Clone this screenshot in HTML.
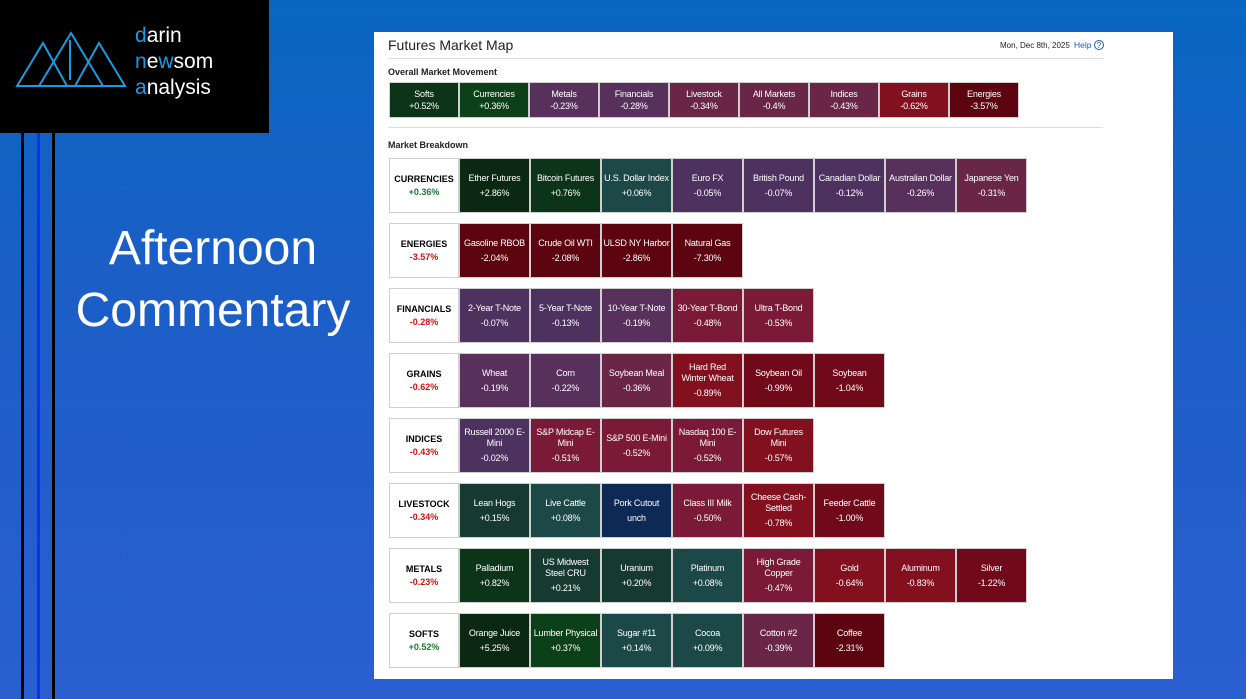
<!DOCTYPE html>
<html><head><meta charset="utf-8"><style>
*{margin:0;padding:0;box-sizing:border-box}
body{width:1246px;height:699px;overflow:hidden;position:relative;font-family:"Liberation Sans",sans-serif;background:linear-gradient(180deg,#0866c2 0%,#1b5ec6 40%,#2a5fd0 100%)}
.abs{position:absolute}
#panel{left:374px;top:32px;width:799px;height:647px;background:#fff}
.cell{position:absolute;color:#fff;font-size:9px;letter-spacing:-0.2px;text-align:center;border:1px solid #cfcfcf;display:flex;flex-direction:column;justify-content:center;align-items:center;line-height:10.5px;white-space:nowrap}
.cell.w .n{white-space:normal;width:62px}
.cell .v{margin-top:5px}
.lab{position:absolute;background:#fff;border:1px solid #cfcfcf;text-align:center;font-size:9px;font-weight:bold;display:flex;flex-direction:column;justify-content:center}
</style></head><body>
<div class="abs" style="left:0;top:0;width:269px;height:133px;background:#000">
<svg class="abs" style="left:15px;top:28px" width="112" height="62"><g fill="none" stroke="#1a9be0" stroke-width="2"><polygon points="2,58 28,15 52,58"/><polygon points="24,58 56,5 88,58"/><polygon points="60,58 84,15 110,58"/><line x1="55" y1="12" x2="55" y2="52"/></g></svg>
<div class="abs" style="left:135px;top:23px;color:#fff;font-size:21px;line-height:26px">
<div><span style="color:#1a9be0">d</span>arin</div><div><span style="color:#1a9be0">n</span>e<span style="color:#1a9be0">w</span>som</div><div><span style="color:#1a9be0">a</span>nalysis</div></div>
</div>
<div class="abs" style="left:21px;top:133px;width:3px;height:566px;background:#000"></div>
<div class="abs" style="left:37px;top:133px;width:3px;height:566px;background:#0a30ff"></div>
<div class="abs" style="left:52px;top:133px;width:3px;height:566px;background:#000"></div>
<div class="abs" style="left:55px;top:218px;width:316px;text-align:center;color:#fff;font-size:48px;line-height:62px">Afternoon<br>Commentary</div>
<div id="panel" class="abs">
<div class="abs" style="left:14px;top:5px;font-size:14px;color:#222">Futures Market Map</div>
<div class="abs" style="left:626px;top:9px;font-size:8px;color:#222">Mon, Dec 8th, 2025</div>
<div class="abs" style="left:700px;top:8px;font-size:8.5px;color:#1a5fb4">Help <span style="display:inline-block;width:10px;height:10px;border:1px solid #1a5fb4;border-radius:50%;font-size:8px;line-height:9px;text-align:center">?</span></div>
<div class="abs" style="left:14px;top:26px;width:715px;height:1px;background:#ddd"></div>
<div class="abs" style="left:14px;top:35px;font-size:9px;font-weight:bold;color:#222">Overall Market Movement</div>
<div class="abs" style="left:14px;top:95px;width:715px;height:1px;background:#ddd"></div>
<div class="abs" style="left:14px;top:108px;font-size:9px;font-weight:bold;color:#222">Market Breakdown</div>
</div>
<script>
const overallNames=["Softs","Currencies","Metals","Financials","Livestock","All Markets","Indices","Grains","Energies"];
const overallValues=[0.52,0.36,-0.23,-0.28,-0.34,-0.4,-0.43,-0.62,-3.57];
const groupNames=["CURRENCIES","ENERGIES","FINANCIALS","GRAINS","INDICES","LIVESTOCK","METALS","SOFTS"];
const groupValues=[0.36,-3.57,-0.28,-0.62,-0.43,-0.34,-0.23,0.52];
const itemNames=[
["Ether Futures","Bitcoin Futures","U.S. Dollar Index","Euro FX","British Pound","Canadian Dollar","Australian Dollar","Japanese Yen"],
["Gasoline RBOB","Crude Oil WTI","ULSD NY Harbor","Natural Gas"],
["2-Year T-Note","5-Year T-Note","10-Year T-Note","30-Year T-Bond","Ultra T-Bond"],
["Wheat","Corn","Soybean Meal","Hard Red Winter Wheat","Soybean Oil","Soybean"],
["Russell 2000 E-Mini","S&P Midcap E-Mini","S&P 500 E-Mini","Nasdaq 100 E-Mini","Dow Futures Mini"],
["Lean Hogs","Live Cattle","Pork Cutout","Class III Milk","Cheese Cash-Settled","Feeder Cattle"],
["Palladium","US Midwest Steel CRU","Uranium","Platinum","High Grade Copper","Gold","Aluminum","Silver"],
["Orange Juice","Lumber Physical","Sugar #11","Cocoa","Cotton #2","Coffee"]];
const itemValues=[
[2.86,0.76,0.06,-0.05,-0.07,-0.12,-0.26,-0.31],
[-2.04,-2.08,-2.86,-7.30],
[-0.07,-0.13,-0.19,-0.48,-0.53],
[-0.19,-0.22,-0.36,-0.89,-0.99,-1.04],
[-0.02,-0.51,-0.52,-0.52,-0.57],
[0.15,0.08,0,-0.50,-0.78,-1.00],
[0.82,0.21,0.20,0.08,-0.47,-0.64,-0.83,-1.22],
[5.25,0.37,0.14,0.09,-0.39,-2.31]];
const wrappedNames=["Hard Red Winter Wheat","Russell 2000 E-Mini","S&P Midcap E-Mini","Nasdaq 100 E-Mini","Dow Futures Mini","Cheese Cash-Settled","US Midwest Steel CRU","High Grade Copper"];
function color(v){
 if(v>=1)return"#0a2812"; if(v>=0.45)return"#0c3418"; if(v>=0.3)return"#0c4018";
 if(v>=0.15)return"#173a30"; if(v>0)return"#1c4848"; if(v===0)return"#0c2a55";
 if(v>-0.15)return"#4d3260"; if(v>-0.3)return"#57305c"; if(v>-0.45)return"#6a2646";
 if(v>-0.56)return"#7a1a38"; if(v>-0.9)return"#83101f"; if(v>-1.6)return"#70091a"; return"#5c0510";}
function fmt(v){return v===0?"unch":(v>0?"+":"")+v.toFixed(2)+"%";}
const P=document.getElementById('panel');
overallNames.forEach((n,i)=>{
 const d=document.createElement('div');d.className='cell';
 
 
 d.style.left=(15+i*70)+'px';d.style.top='50px';d.style.width='70px';d.style.height='36px';
 d.style.background=color(overallValues[i]);
 d.innerHTML='<div>'+n+'</div><div style="margin-top:2px">'+(overallValues[i]>0?"+":"")+overallValues[i]+'%</div>';
 P.appendChild(d);});
groupNames.forEach((g,r)=>{
 const top=126+r*65;
 const l=document.createElement('div');l.className='lab';
 
 
 l.style.left='15px';l.style.top=top+'px';l.style.width='70px';l.style.height='55px';
 const gv=groupValues[r];
 l.innerHTML='<div>'+g+'</div><div style="margin-top:3px;color:'+(gv>=0?'#1a7a30':'#d01010')+'">'+fmt(gv)+'</div>';
 P.appendChild(l);
 itemNames[r].forEach((n,i)=>{
  const d=document.createElement('div');
  d.className=wrappedNames.includes(n)?'cell w':'cell';
  
  
  d.style.left=(85+i*71)+'px';d.style.top=top+'px';d.style.width='71px';d.style.height='55px';
  d.style.background=color(itemValues[r][i]);
  d.innerHTML='<div class="n">'+n+'</div><div class="v">'+fmt(itemValues[r][i])+'</div>';
  P.appendChild(d);});
});
</script>
</body></html>
